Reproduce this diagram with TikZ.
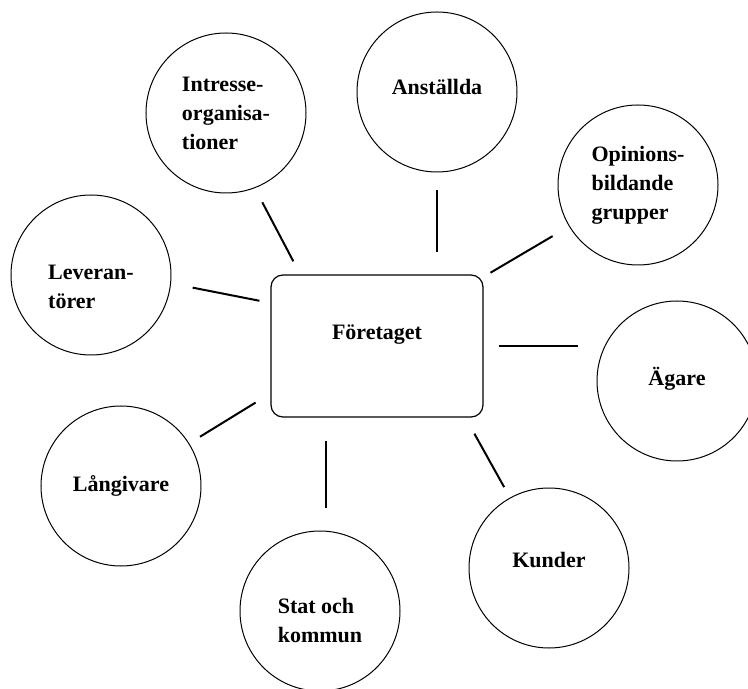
\documentclass[tikz,border=0pt]{standalone}
\usepackage{fontspec}
\setmainfont{Liberation Serif}
\usetikzlibrary{positioning}

\begin{document}
\begin{tikzpicture}[on grid, font=\bfseries\fontsize{11}{14.5}\selectfont,
    party/.style={circle, draw, line width=0.5pt, minimum size=80pt, inner sep=0pt, align=left},
    link/.style={line width=1pt}]
  \useasboundingbox (-188.5pt,-171.5pt) rectangle (185.5pt,173pt);
  \node[draw, line width=0.6pt, rounded corners=6pt, minimum width=106pt, minimum height=71pt,
        text height=8pt, text depth=14pt] (firm) at (0,0) {Företaget};
  \node[party] [above left=116.5pt and 75.5pt of firm] (intresse) {Intresse-\\organisa-\\tioner};
  \node[party, text depth=5pt] [above right=127pt and 30pt of firm] (anstallda) {Anställda};
  \node[party] [above right=80.5pt and 130.5pt of firm] (opinion) {Opinions-\\bildande\\grupper};
  \node[party, text height=34pt] [above left=35.5pt and 143pt of firm] (leverantor) {Leveran-\\törer};
  \node[party, text depth=5pt] [below right=17.5pt and 150pt of firm] (agare) {Ägare};
  \node[party] [below left=70pt and 128pt of firm] (langivare) {Långivare};
  \node[party, text depth=8pt] [below right=111pt and 86pt of firm] (kunder) {Kunder};
  \node[party, text height=32pt] [below left=132.5pt and 28.5pt of firm] (stat) {Stat och\\kommun};
  % connectors, kept short of both ends
  \draw[link, shorten <=8pt, shorten >=7.4pt] (intresse.-69) -- (firm.137);
  \draw[link, shorten <=9pt, shorten >=11pt] (anstallda.south) -- (anstallda.south |- firm.north);
  \draw[link, shorten <=9.5pt, shorten >=4pt] (opinion.211) -- (firm.33);
  \draw[link, shorten <=11pt, shorten >=5.6pt] (leverantor.-6.7) -- (firm.158.6);
  \draw[link, shorten <=7.5pt, shorten >=9.5pt] (firm.east) -- (firm.east -| agare.west);
  \draw[link, shorten <=6.3pt, shorten >=8.7pt] (langivare.32.7) -- (firm.204.5);
  \draw[link, shorten <=6pt, shorten >=9.2pt] (kunder.119.4) -- (firm.-39.2);
  \draw[link, shorten <=11.5pt, shorten >=11.5pt] (stat.86) -- (stat.86 |- firm.south);
\end{tikzpicture}
\end{document}
